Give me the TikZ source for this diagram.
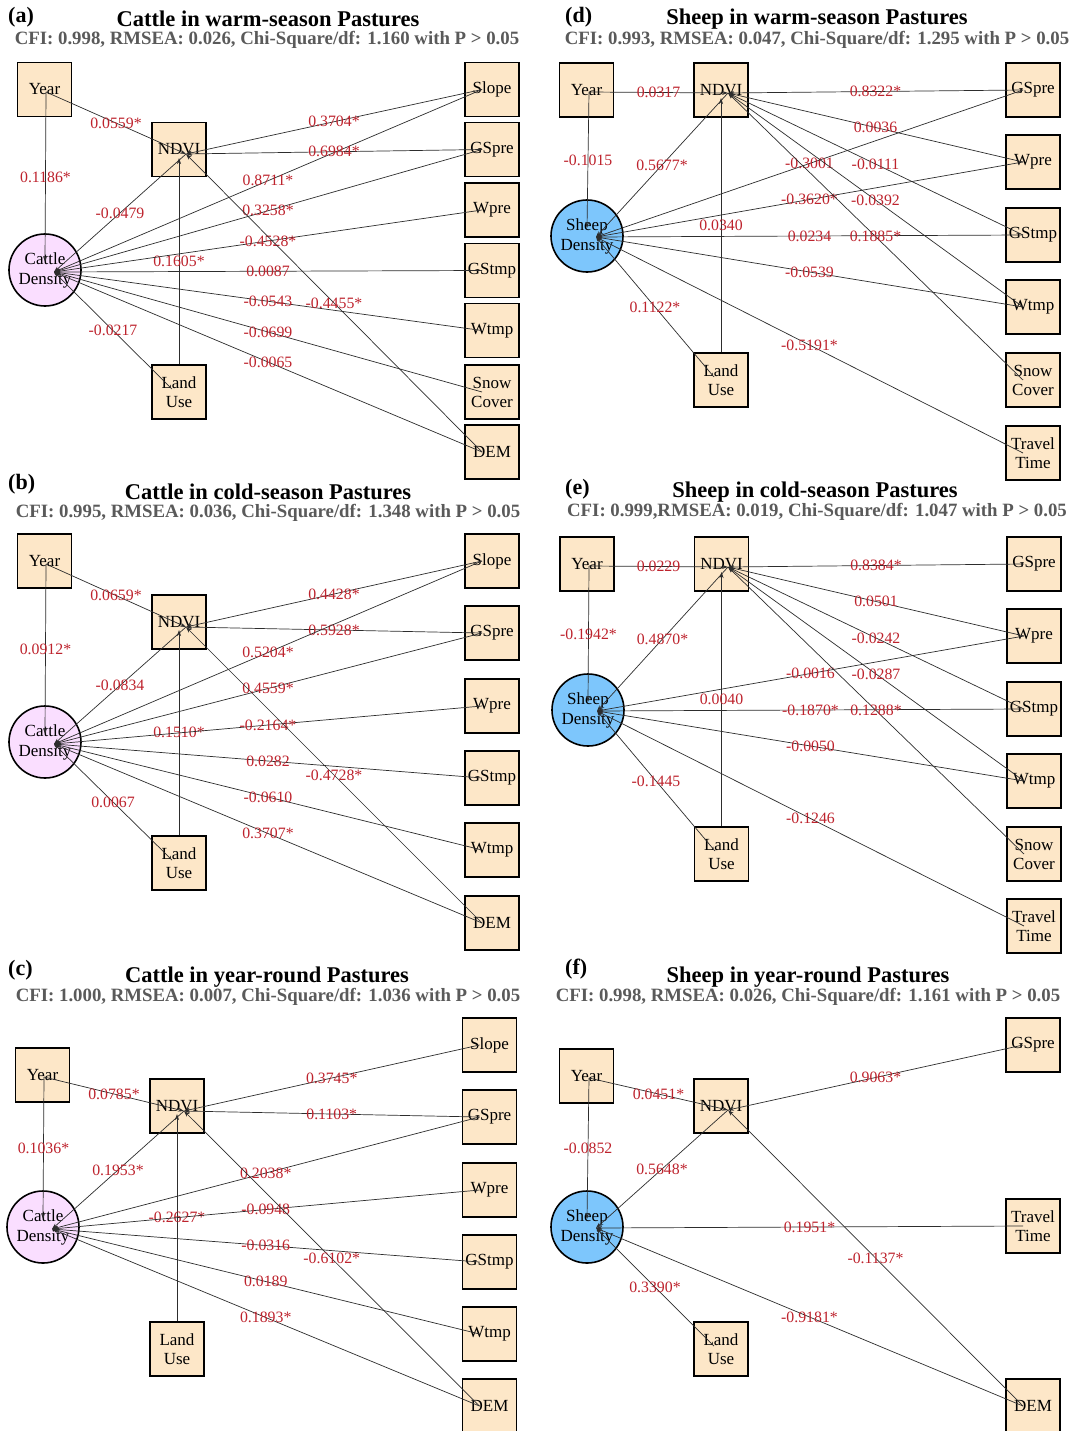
\documentclass[tikz,border=0pt]{standalone}
\usepackage{fontspec}
\setmainfont{Liberation Serif}
\usetikzlibrary{arrows.meta}
\definecolor{boxfill}{RGB}{253,231,200}
\definecolor{cattlefill}{RGB}{250,222,255}
\definecolor{sheepfill}{RGB}{125,198,252}
\definecolor{lblred}{RGB}{190,35,45}
\definecolor{subgray}{RGB}{90,90,90}
\definecolor{linegray}{RGB}{45,45,45}
\tikzset{
 sqbox/.style={draw=black,line width=1.1pt,fill=boxfill,minimum size=54pt,inner sep=0pt,align=center,font=\fontsize{17}{19}\selectfont},
 dens/.style={circle,draw=black,line width=1.6pt,minimum size=72pt,inner sep=0pt,align=center,font=\fontsize{17}{20}\selectfont},
 conn/.style={draw=linegray,line width=0.7pt,-{Stealth[length=6pt,width=4pt]}},
 lbl/.style={text=lblred,font=\fontsize{15.8}{17}\selectfont,inner sep=0pt,midway},
 ttl/.style={font=\bfseries\fontsize{22.5}{24}\selectfont,inner sep=0pt},
 subttl/.style={text=subgray,font=\bfseries\fontsize{18.8}{20}\selectfont,inner sep=0pt},
 tagl/.style={font=\bfseries\fontsize{22}{24}\selectfont,anchor=west,inner sep=0pt},
}
\newcommand\myedge[3]{\draw[conn] (#1) -- node[lbl]{#3} (#2);}
\newcommand\rb[4]{\node[sqbox] (#1) at (#2,#3) {#4}; \coordinate (#1h) at ([xshift=-10pt]#1.center);}
\begin{document}
\begin{tikzpicture}[x=1pt,y=-1pt]
\useasboundingbox (0,0) rectangle (1077,1431);
\fill[white] (0,0) rectangle (1077,1431);

% ================= (a) =================
\node[tagl] (ta) at (8,17) {(a)};
\node[ttl] (Ta) at (268,19) {Cattle in warm-season Pastures};
\node[subttl] (Sa) at (267,39.5) {CFI: 0.998, RMSEA: 0.026, Chi-Square/df: 1.160 with P > 0.05};
\node[sqbox] (aY) at (44.5,89.5) {Year};
\node[sqbox] (aN) at (179,149.5) {NDVI};
\node[dens,fill=cattlefill] (aC) at (45,270) {Cattle\\Density};
\node[sqbox] (aL) at (179,392) {Land\\Use};
\rb{aSl}{492}{89.5}{Slope}
\rb{aGP}{492}{149.5}{GSpre}
\rb{aWP}{492}{210}{Wpre}
\rb{aGT}{492}{270.5}{GStmp}
\rb{aWT}{492}{330.5}{Wtmp}
\rb{aSC}{492}{392}{Snow\\Cover}
\rb{aDEM}{492}{452}{DEM}
\coordinate (aYh) at (46,92);
\coordinate (aNh) at (186,154);
\coordinate (aCh) at (54,272);
\coordinate (aLh) at (172,389);
\coordinate (aNv) at (179,158);
\coordinate (aCv) at (45,262);
\myedge{aYh}{aNh}{0.0559*}
\myedge{aYh}{aCv}{0.1186*}
\myedge{aNh}{aCh}{-0.0479}
\myedge{aL}{aNv}{0.1605*}
\myedge{aLh}{aCh}{-0.0217}
\myedge{aSlh}{aNh}{0.3704*}
\myedge{aSlh}{aCh}{0.8711*}
\myedge{aGPh}{aNh}{0.6984*}
\myedge{aGPh}{aCh}{0.3258*}
\myedge{aWPh}{aCh}{-0.4528*}
\myedge{aGTh}{aCh}{0.0087}
\myedge{aWTh}{aCh}{-0.0543}
\myedge{aDEMh}{aNh}{-0.4455*}
\myedge{aSCh}{aCh}{-0.0699}
\myedge{aDEMh}{aCh}{-0.0065}

% ================= (b) =================
\node[tagl] (tb) at (8,484) {(b)};
\node[ttl] (Tb) at (268,492) {Cattle in cold-season Pastures};
\node[subttl] (Sb) at (268,512.5) {CFI: 0.995, RMSEA: 0.036, Chi-Square/df: 1.348 with P > 0.05};
\node[sqbox] (bY) at (44.5,561) {Year};
\node[sqbox] (bN) at (179,622) {NDVI};
\node[dens,fill=cattlefill] (bC) at (45,742) {Cattle\\Density};
\node[sqbox] (bL) at (179,863) {Land\\Use};
\rb{bSl}{492}{561}{Slope}
\rb{bGP}{492}{633}{GSpre}
\rb{bWP}{492}{706}{Wpre}
\rb{bGT}{492}{778}{GStmp}
\rb{bWT}{492}{850}{Wtmp}
\rb{bDEM}{492}{923}{DEM}
\coordinate (bYh) at (46,564);
\coordinate (bNh) at (186,627);
\coordinate (bCh) at (54,744);
\coordinate (bLh) at (172,860);
\coordinate (bNv) at (179,630);
\coordinate (bCv) at (45,734);
\myedge{bYh}{bNh}{0.0659*}
\myedge{bYh}{bCv}{0.0912*}
\myedge{bNh}{bCh}{-0.0834}
\myedge{bL}{bNv}{0.1510*}
\myedge{bLh}{bCh}{0.0067}
\myedge{bSlh}{bNh}{0.4428*}
\myedge{bGPh}{bNh}{0.5928*}
\myedge{bSlh}{bCh}{0.5204*}
\myedge{bGPh}{bCh}{0.4559*}
\myedge{bWPh}{bCh}{-0.2164*}
\myedge{bGTh}{bCh}{0.0282}
\myedge{bDEMh}{bNh}{-0.4728*}
\myedge{bWTh}{bCh}{-0.0610}
\myedge{bDEMh}{bCh}{0.3707*}

% ================= (c) =================
\node[tagl] (tc) at (8,970) {(c)};
\node[ttl] (Tc) at (267,977) {Cattle in year-round Pastures};
\node[subttl] (Sc) at (268,997) {CFI: 1.000, RMSEA: 0.007, Chi-Square/df: 1.036 with P > 0.05};
\node[sqbox] (cY) at (42.5,1075) {Year};
\node[sqbox] (cN) at (177,1106) {NDVI};
\node[dens,fill=cattlefill] (cC) at (43,1227) {Cattle\\Density};
\node[sqbox] (cL) at (177,1349) {Land\\Use};
\rb{cSl}{489.5}{1045}{Slope}
\rb{cGP}{489.5}{1117}{GSpre}
\rb{cWP}{489.5}{1190}{Wpre}
\rb{cGT}{489.5}{1262}{GStmp}
\rb{cWT}{489.5}{1334}{Wtmp}
\rb{cDEM}{489.5}{1406}{DEM}
\coordinate (cYh) at (44,1077);
\coordinate (cNh) at (184,1111);
\coordinate (cCh) at (52,1229);
\coordinate (cNv) at (177,1114);
\coordinate (cCv) at (43,1219);
\myedge{cYh}{cNh}{0.0785*}
\myedge{cYh}{cCv}{0.1036*}
\myedge{cNh}{cCh}{0.1953*}
\myedge{cL}{cNv}{-0.2627*}
\myedge{cSlh}{cNh}{0.3745*}
\myedge{cGPh}{cNh}{0.1103*}
\myedge{cGPh}{cCh}{0.2038*}
\myedge{cWPh}{cCh}{-0.0948}
\myedge{cGTh}{cCh}{-0.0316}
\myedge{cDEMh}{cNh}{-0.6102*}
\myedge{cWTh}{cCh}{0.0189}
\myedge{cDEMh}{cCh}{0.1893*}

% ================= (d) =================
\node[tagl] (td) at (565,17) {(d)};
\node[ttl] (Td) at (817,19) {Sheep in warm-season Pastures};
\node[subttl] (Sd) at (817,39.5) {CFI: 0.993, RMSEA: 0.047, Chi-Square/df: 1.295 with P > 0.05};
\node[sqbox] (dY) at (586.5,90) {Year};
\node[sqbox] (dN) at (721,90) {NDVI};
\node[dens,fill=sheepfill] (dS) at (587,236) {Sheep\\Density};
\node[sqbox] (dL) at (721,380) {Land\\Use};
\rb{dGP}{1033}{90}{GSpre}
\rb{dWP}{1033}{162}{Wpre}
\rb{dGT}{1033}{235}{GStmp}
\rb{dWT}{1033}{307}{Wtmp}
\rb{dSC}{1033}{380}{Snow\\Cover}
\rb{dTT}{1033}{453}{Travel\\Time}
\coordinate (dYh) at (589,92);
\coordinate (dNh) at (728,93);
\coordinate (dSh) at (596,237);
\coordinate (dLh) at (714,377);
\coordinate (dNv) at (721,98);
\coordinate (dSv) at (587,228);
\myedge{dYh}{dNh}{0.0317}
\myedge{dYh}{dSv}{-0.1015}
\myedge{dNh}{dSh}{0.5677*}
\myedge{dL}{dNv}{0.0340}
\myedge{dLh}{dSh}{0.1122*}
\myedge{dGPh}{dNh}{0.8322*}
\myedge{dGPh}{dSh}{-0.3001}
\myedge{dWPh}{dNh}{0.0036}
\myedge{dWPh}{dSh}{-0.3620*}
\myedge{dGTh}{dNh}{-0.0111}
\myedge{dGTh}{dSh}{0.0234}
\myedge{dWTh}{dNh}{-0.0392}
\myedge{dWTh}{dSh}{-0.0539}
\myedge{dSCh}{dNh}{0.1885*}
\myedge{dTTh}{dSh}{-0.5191*}

% ================= (e) =================
\node[tagl] (te) at (565,489) {(e)};
\node[ttl] (Te) at (815,492) {Sheep in cold-season Pastures};
\node[subttl] (Se) at (817,512) {CFI: 0.999,RMSEA: 0.019, Chi-Square/df: 1.047 with P > 0.05};
\node[sqbox] (eY) at (587,564) {Year};
\node[sqbox] (eN) at (721.5,564) {NDVI};
\node[dens,fill=sheepfill] (eS) at (588,710) {Sheep\\Density};
\node[sqbox] (eL) at (721.5,854) {Land\\Use};
\rb{eGP}{1034}{564}{GSpre}
\rb{eWP}{1034}{636}{Wpre}
\rb{eGT}{1034}{709}{GStmp}
\rb{eWT}{1034}{781}{Wtmp}
\rb{eSC}{1034}{854}{Snow\\Cover}
\rb{eTT}{1034}{926}{Travel\\Time}
\coordinate (eYh) at (589,566);
\coordinate (eNh) at (728,567);
\coordinate (eSh) at (597,711);
\coordinate (eLh) at (715,851);
\coordinate (eNv) at (721.5,572);
\coordinate (eSv) at (588,702);
\myedge{eYh}{eNh}{0.0229}
\myedge{eYh}{eSv}{-0.1942*}
\myedge{eNh}{eSh}{0.4870*}
\myedge{eL}{eNv}{0.0040}
\myedge{eLh}{eSh}{-0.1445}
\myedge{eGPh}{eNh}{0.8384*}
\myedge{eWPh}{eNh}{0.0501}
\myedge{eWPh}{eSh}{-0.0016}
\myedge{eGTh}{eNh}{-0.0242}
\myedge{eGTh}{eSh}{-0.1870*}
\myedge{eWTh}{eNh}{-0.0287}
\myedge{eWTh}{eSh}{-0.0050}
\myedge{eSCh}{eNh}{0.1288*}
\myedge{eTTh}{eSh}{-0.1246}

% ================= (f) =================
\node[tagl] (tf) at (565,969) {(f)};
\node[ttl] (Tf) at (808,977) {Sheep in year-round Pastures};
\node[subttl] (Sf) at (808,996.5) {CFI: 0.998, RMSEA: 0.026, Chi-Square/df: 1.161 with P > 0.05};
\node[sqbox] (fY) at (586.5,1076) {Year};
\node[sqbox] (fN) at (721,1106) {NDVI};
\node[dens,fill=sheepfill] (fS) at (587,1227) {Sheep\\Density};
\node[sqbox] (fL) at (721,1349) {Land\\Use};
\rb{fGP}{1033}{1045}{GSpre}
\rb{fTT}{1033}{1226}{Travel\\Time}
\rb{fDEM}{1033}{1406}{DEM}
\coordinate (fYh) at (589,1078);
\coordinate (fNh) at (728,1110);
\coordinate (fSh) at (596,1228);
\coordinate (fLh) at (714,1346);
\coordinate (fSv) at (587,1219);
\myedge{fYh}{fNh}{0.0451*}
\myedge{fGPh}{fNh}{0.9063*}
\myedge{fYh}{fSv}{-0.0852}
\myedge{fNh}{fSh}{0.5648*}
\myedge{fTTh}{fSh}{0.1951*}
\myedge{fDEMh}{fNh}{-0.1137*}
\myedge{fLh}{fSh}{0.3390*}
\myedge{fDEMh}{fSh}{-0.9181*}
\end{tikzpicture}
\end{document}
